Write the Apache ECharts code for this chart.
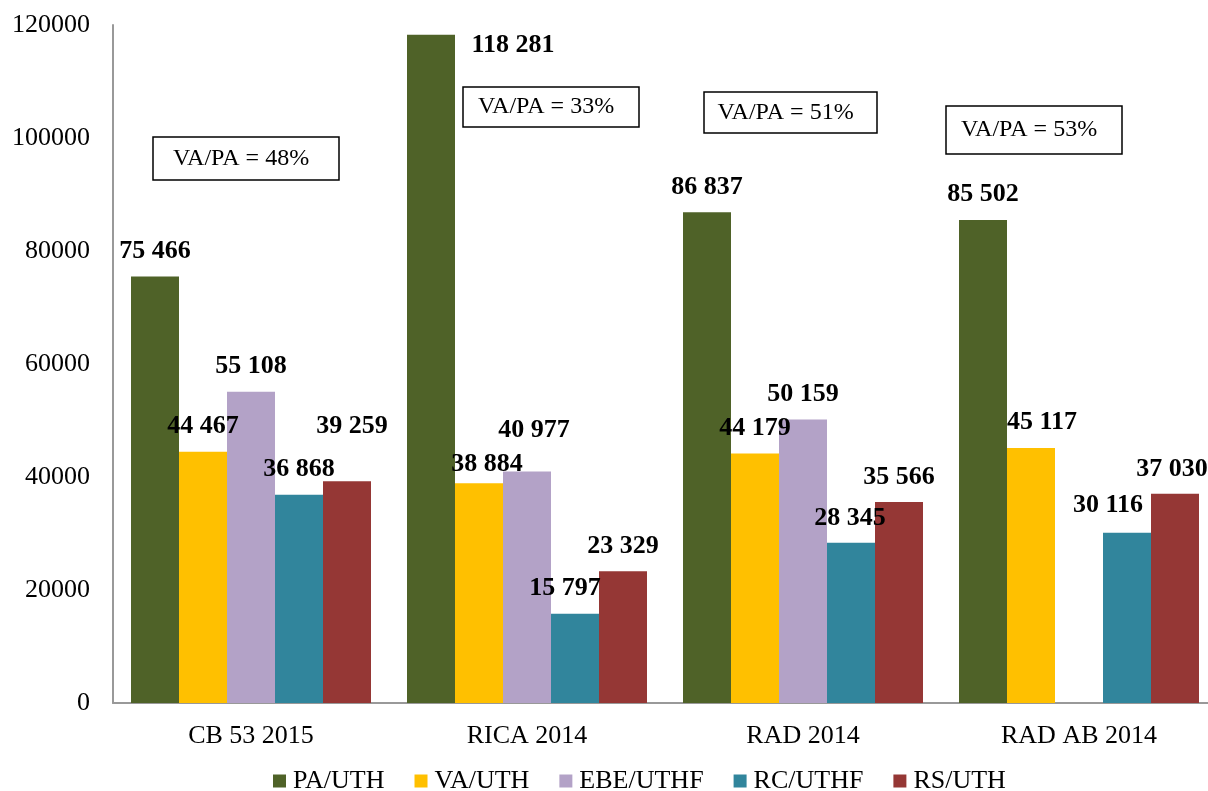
<!DOCTYPE html>
<html>
<head>
<meta charset="utf-8">
<script src="https://cdn.jsdelivr.net/npm/echarts@6/dist/echarts.min.js"></script>
<style>
  html, body { margin: 0; padding: 0; background: #fff; }
  #main { width: 1208px; height: 791px; }
</style>
</head>
<body>
<div id="main"></div>
<script>
// data
var categories = ['CB 53 2015', 'RICA 2014', 'RAD 2014', 'RAD AB 2014'];
var seriesNames = ['PA/UTH', 'VA/UTH', 'EBE/UTHF', 'RC/UTHF', 'RS/UTH'];
var paUth = [75466, 118281, 86837, 85502];
var vaUth = [44467, 38884, 44179, 45117];
var ebeUthf = [55108, 40977, 50159, null];
var rcUthf = [36868, 15797, 28345, 30116];
var rsUth = [39259, 23329, 35566, 37030];
var ratioLabels = ['VA/PA = 48%', 'VA/PA = 33%', 'VA/PA = 51%', 'VA/PA = 53%'];
var yTicks = [0, 20000, 40000, 60000, 80000, 100000, 120000];

var colors = ['#4F6228', '#FFC000', '#B3A2C7', '#31859C', '#953735'];

// label nudges (layout only), [dx, dy] per series per category
var labelNudge = [
  [[0, -12], [82, 24], [0, -12], [0, -13]],
  [[0, -12], [8, -6], [0, -12], [11, -13]],
  [[0, -12], [7, -28], [0, -12], [0, 0]],
  [[0, -12], [-10, -12], [-1, -12], [-19, -15]],
  [[5, -42], [0, -12], [0, -12], [-3, -11]]
];

function fmt(v) {
  return String(v).replace(/\B(?=(\d{3})+(?!\d))/g, ' ');
}

var allValues = [paUth, vaUth, ebeUthf, rcUthf, rsUth];

var series = allValues.map(function (vals, si) {
  return {
    name: seriesNames[si],
    type: 'bar',
    barWidth: 48,
    barGap: '0%',
    itemStyle: { color: colors[si] },
    data: vals.map(function (v, ci) {
      return {
        value: v,
        label: { offset: labelNudge[si][ci] }
      };
    }),
    label: {
      show: true,
      position: 'top',
      distance: 0,
      fontFamily: 'Liberation Serif',
      fontWeight: 'bold',
      fontSize: 26,
      color: '#000',
      formatter: function (p) { return fmt(p.value); }
    }
  };
});

var boxes = [
  { x: 153, y: 137, w: 186, h: 43 },
  { x: 463, y: 87, w: 176, h: 40 },
  { x: 704, y: 92, w: 173, h: 41 },
  { x: 946, y: 106, w: 176, h: 48 }
];

var graphics = [];
boxes.forEach(function (b, i) {
  graphics.push({
    type: 'rect',
    shape: { x: b.x, y: b.y, width: b.w, height: b.h },
    style: { fill: '#fff', stroke: '#000', lineWidth: 1.5 },
    z: 100
  });
  graphics.push({
    type: 'text',
    x: b.x + b.w / 2 - 5,
    y: b.y + b.h / 2,
    style: {
      text: ratioLabels[i],
      fontFamily: 'Liberation Serif',
      fontSize: 24,
      fill: '#000',
      align: 'center',
      verticalAlign: 'middle'
    },
    z: 101
  });
});

var myChart = echarts.init(document.getElementById('main'));
myChart.setOption({
  animation: false,
  backgroundColor: '#fff',
  grid: { left: 113, width: 1104, top: 25, bottom: 88, outerBoundsMode: 'none', containLabel: false },
  legend: {
    top: 763,
    left: 268,
    icon: 'rect',
    itemWidth: 13,
    itemHeight: 13,
    itemGap: 30,
    textStyle: { fontFamily: 'Liberation Serif', fontSize: 26, color: '#000', padding: [0, 0, 0, 2] },
    data: seriesNames
  },
  xAxis: {
    type: 'category',
    data: categories,
    axisLine: { lineStyle: { color: '#999', width: 2 } },
    axisTick: { show: false },
    axisLabel: { fontFamily: 'Liberation Serif', fontSize: 26, color: '#000', margin: 20 }
  },
  yAxis: {
    type: 'value',
    min: yTicks[0],
    max: yTicks[yTicks.length - 1],
    interval: 20000,
    axisLine: { show: true, lineStyle: { color: '#999', width: 2 } },
    axisTick: { show: false },
    splitLine: { show: false },
    axisLabel: {
      fontFamily: 'Liberation Serif', fontSize: 26, color: '#000', margin: 23,
      formatter: function (v) { return String(v); }
    }
  },
  series: series,
  graphic: graphics
});
</script>
</body>
</html>
